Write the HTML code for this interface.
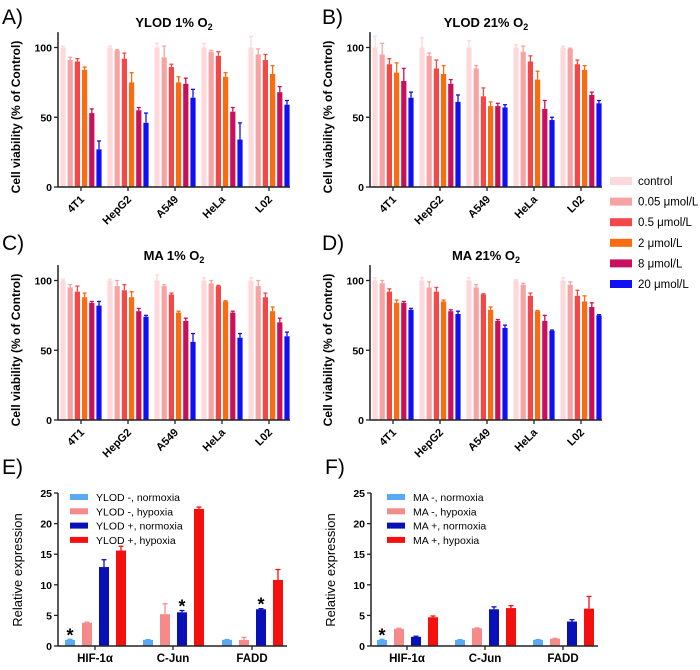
<!DOCTYPE html>
<html><head><meta charset="utf-8"><style>
body{margin:0;background:#fff;width:700px;height:665px;overflow:hidden}
svg{font-family:"Liberation Sans",Arial,sans-serif}
</style></head><body>
<svg id="fig" width="700" height="665"></svg>
<script>
const cells=["4T1","HepG2","A549","HeLa","L02"];
const doseLabels=["control","0.05 μmol/L","0.5 μmol/L","2 μmol/L","8 μmol/L","20 μmol/L"];
const doseColors=["#fdd9dc","#f8a3a3","#f44848","#f96c0f","#c8105d","#1010f5"];
const aVals=[[100,91,90,84,53,27],[100,98,92,75,55,46],[100,93,86,75,74,64],[100,97,94,79,54,34],[100,95,91,81,68,59]];
const aErr=[[1,2,2,2,3,6],[1,0.5,4,7,2,7],[3,8,2,4,4,6],[3,1,3,3,3,12],[8,4,4,6,4,3]];
const bVals=[[100,95,88,82,76,64],[100,94,85,81,74,61],[100,85,65,58,58,57],[100,97,90,77,56,48],[100,99,88,84,66,60]];
const bErr=[[8,8,4,7,9,4],[7,2,6,6,3,5],[5,2,6,3,2,2],[2,4,4,6,6,2],[1,0.5,3,3,2,2]];
const cVals=[[100,95,92,88,84,82],[100,96,93,88,78,74],[100,96,90,77,71,56],[100,98,96,85,77,59],[100,96,88,78,70,60]];
const cErr=[[1,2,4,3,1,3],[1,4,4,4,2,1],[4,1,1,1,2,6],[2,2,0.5,0.5,1,3],[2,4,3,3,3,3]];
const dVals=[[100,98,92,84,84,79],[100,95,92,85,78,76],[100,95,90,79,71,66],[100,97,89,78,71,64],[100,97,89,85,81,75]];
const dErr=[[2,2,2,2,1,1],[2,4,3,1,1,2],[2,2,0.5,2,1,2],[0.5,1,2,0.5,4,0.5],[2,2,4,4,3,0.5]];
const genes=["HIF-1α","C-Jun","FADD"];
const exprColors=["#5aa9f5","#f58a8a","#0a10b8","#f51010"];
const eLegend=["YLOD -, normoxia","YLOD -, hypoxia","YLOD +, normoxia","YLOD +, hypoxia"];
const fLegend=["MA -, normoxia","MA -, hypoxia","MA +, normoxia","MA +, hypoxia"];
const eVals=[[1,3.8,12.9,15.6],[1,5.2,5.5,22.4],[1,1,6,10.8]];
const eErr=[[0.1,0.1,1.2,0.7],[0.05,1.7,0.3,0.3],[0.05,0.4,0.1,1.7]];
const fVals=[[1,2.8,1.5,4.7],[1,2.9,6,6.2],[1,1.2,4,6.1]];
const fErr=[[0.1,0.1,0.1,0.2],[0.05,0.05,0.4,0.4],[0.05,0.05,0.3,2]];
const vTicks=[0,50,100];
const eTicks=[0,5,10,15,20,25];

const NS="http://www.w3.org/2000/svg";
const svg=document.getElementById('fig');
function mk(tag,attrs,parent,txt){const e=document.createElementNS(NS,tag);for(const k in attrs)e.setAttribute(k,attrs[k]);if(txt!==undefined)e.textContent=txt;(parent||svg).appendChild(e);return e;}

function panelLetter(t,x,y){const e=mk('text',{x:x,y:y,'font-size':21},svg,t);

}

function viability(id,title,ax,axisY,vals,errs){
  const g=mk('g',{});
  
  
  const y=v=>axisY-v*1.395;
  const x0=ax+5, gp=47, bp=7.2, bw=5.2;
  const t=mk('text',{x:ax+116,y:axisY-160,'font-size':13,'font-weight':'bold','text-anchor':'middle'},g);
  t.appendChild(document.createTextNode(title));
  mk('tspan',{'font-size':9,dy:3},t,'2');
  
  
  const yl=mk('text',{transform:`translate(${ax-38},${axisY-70}) rotate(-90)`,'font-size':12,'font-weight':'bold','text-anchor':'middle'},g,'Cell viability (% of Control)');
  
  
  vals.forEach((grp,i)=>{grp.forEach((v,j)=>{
    const cx=x0+i*gp+j*bp, col=doseColors[j];
    const top=y(v), et=y(v+errs[i][j]);
    const l=mk('line',{x1:cx,x2:cx,y1:top,y2:et,stroke:col,'stroke-width':1.3},g);
    
    
    mk('line',{x1:cx-2,x2:cx+2,y1:et,y2:et,stroke:col,'stroke-width':1.3},g);
    const r=mk('rect',{x:cx-bw/2,y:top,width:bw,height:axisY-top,fill:col},g);
    
    
  });
    const tc=x0+i*gp+18;
    mk('line',{x1:tc,x2:tc,y1:axisY,y2:axisY+4,stroke:'#222','stroke-width':1.3},g);
    const lb=mk('text',{transform:`translate(${tc+4},${axisY+13}) rotate(-45)`,'font-size':11,'font-weight':'bold','text-anchor':'end'},g,cells[i]);
    
    
  });
  mk('line',{x1:ax,x2:ax,y1:axisY,y2:y(111),stroke:'#222','stroke-width':1.5},g);
  mk('line',{x1:ax,x2:ax+232,y1:axisY,y2:axisY,stroke:'#222','stroke-width':1.5},g);
  vTicks.forEach(v=>{mk('line',{x1:ax-4,x2:ax,y1:y(v),y2:y(v),stroke:'#222','stroke-width':1.3},g);
    const tl=mk('text',{x:ax-6,y:y(v)+4,'font-size':10.5,'font-weight':'bold','text-anchor':'end'},g,v);
    
    });
}
function expr(id,ax,xs,vals,errs,legend,lx,stars){
  const g=mk('g',{});
  
  
  const axisY=646, y=v=>axisY-v*6.12, bw=10;
  const yl=mk('text',{transform:`translate(${ax-36},${axisY-76}) rotate(-90)`,'font-size':13,'text-anchor':'middle'},g,'Relative expression');
  
  
  vals.forEach((grp,i)=>{grp.forEach((v,j)=>{
    const cx=xs[i]+j*17, col=exprColors[j];
    const top=y(v), et=y(v+errs[i][j]);
    mk('line',{x1:cx,x2:cx,y1:top,y2:et,stroke:col,'stroke-width':1.3},g);
    mk('line',{x1:cx-2.5,x2:cx+2.5,y1:et,y2:et,stroke:col,'stroke-width':1.3},g);
    const r=mk('rect',{x:cx-bw/2,y:top,width:bw,height:axisY-top,fill:col},g);
    
    
    if(stars[i]===j){const s=mk('text',{x:cx,y:et+2,'font-size':18,'font-weight':'bold','text-anchor':'middle'},g,'*');
      
      }
  });
    const tc=xs[i]+25;
    mk('line',{x1:tc,x2:tc,y1:axisY,y2:axisY+4,stroke:'#222','stroke-width':1.3},g);
    const lb=mk('text',{x:tc,y:axisY+16,'font-size':11.5,'font-weight':'bold','text-anchor':'middle'},g,genes[i]);
    
    
  });
  mk('line',{x1:ax,x2:ax,y1:axisY,y2:y(25),stroke:'#222','stroke-width':1.5},g);
  mk('line',{x1:ax,x2:xs[2]+60,y1:axisY,y2:axisY,stroke:'#222','stroke-width':1.5},g);
  eTicks.forEach(v=>{mk('line',{x1:ax-4,x2:ax,y1:y(v),y2:y(v),stroke:'#222','stroke-width':1.3},g);
    const tl=mk('text',{x:ax-6,y:y(v)+4,'font-size':10.5,'font-weight':'bold','text-anchor':'end'},g,v);
    
    });
  legend.forEach((t,j)=>{const yy=497+j*14.3;
    const le=mk('g',{},g);
    
    
    mk('rect',{x:lx,y:yy-3,width:18,height:6,fill:exprColors[j]},le);
    mk('text',{x:lx+26,y:yy+4,'font-size':10.5},le,t);});
}
panelLetter('A)',2,24);panelLetter('B)',322,24);panelLetter('C)',2,250);panelLetter('D)',322,250);
panelLetter('E)',2,474);panelLetter('F)',325,474);
viability('a','YLOD 1% O',58,187,aVals,aErr);
viability('b','YLOD 21% O',370,187,bVals,bErr);
viability('c','MA 1% O',58,420,cVals,cErr);
viability('d','MA 21% O',370,420,dVals,dErr);
const lg=mk('g',{});


doseLabels.forEach((t,j)=>{const yy=181+j*20.6;
  const le=mk('g',{},lg);
  
  
  mk('rect',{x:610,y:yy-4,width:22,height:8,fill:doseColors[j]},le);
  mk('text',{x:638,y:yy+4,'font-size':11.5},le,t);});
expr('e',58,[70,148,227],eVals,eErr,eLegend,70,[0,2,2]);
expr('f',371,[382,460,538],fVals,fErr,fLegend,387,[0,-1,-1]);
</script>
</body></html>
